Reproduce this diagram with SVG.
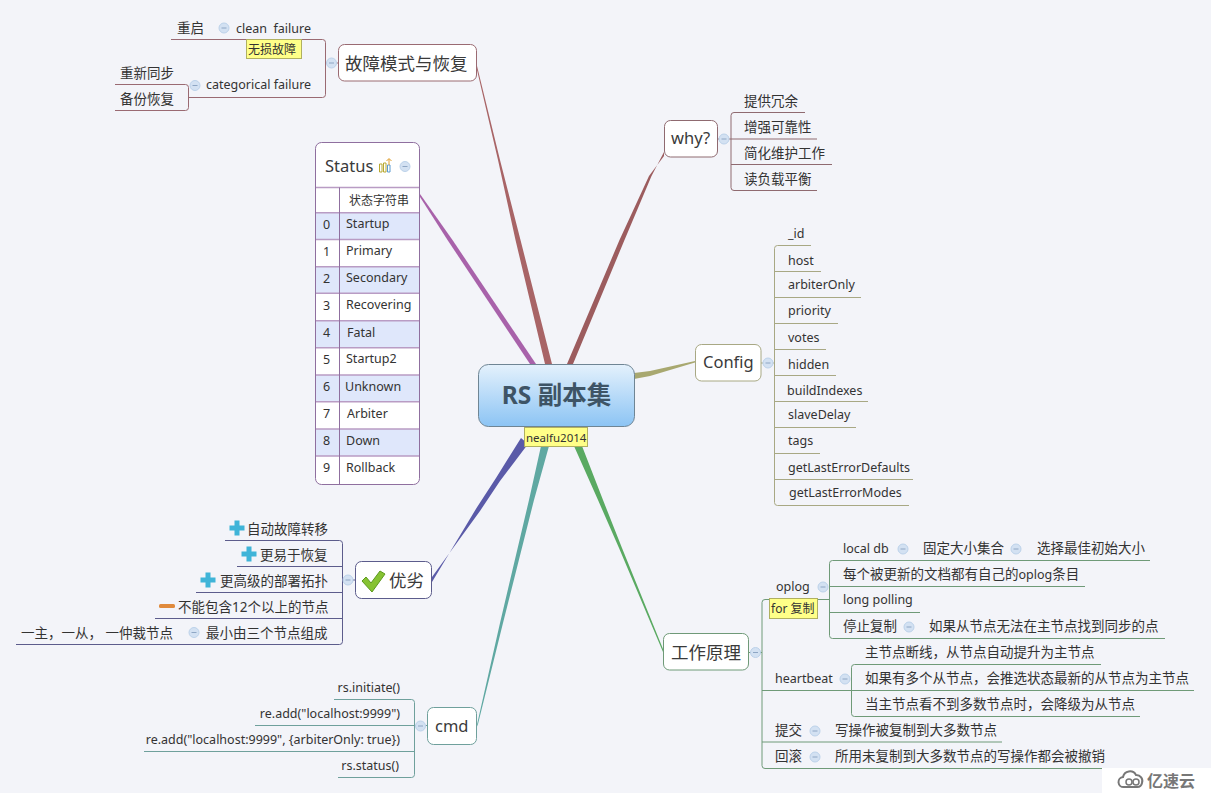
<svg xmlns="http://www.w3.org/2000/svg" width="1211" height="793" viewBox="0 0 1211 793">
<defs>
<linearGradient id="cg" x1="0" y1="0" x2="0" y2="1"><stop offset="0" stop-color="#e4f1fc"/><stop offset="1" stop-color="#8cc4f4"/></linearGradient>
<g id="mn"><circle r="5" fill="#d3e1f2" stroke="#bcd2ea"/><path d="M-2.500 0H2.500" stroke="#8ea6c4" stroke-width="1"/></g>
<g id="plus"><path d="M-7.500 0H7.500M0-7.500V7.500" stroke="#3fb4d8" stroke-width="5"/></g>
</defs>
<style>
text{font-family:"Noto Sans","Noto Sans CJK SC",sans-serif;fill:#333;font-size:12.500px;white-space:pre}
.z{font-size:13.500px}
.m{font-size:17.500px;fill:#3a3a3a}
.l{font-size:16.500px;fill:#3a3a3a}
.e{text-anchor:end}
.lab{fill:#ffff88;stroke:#b0b060}
.labt{font-size:12px}
.box{fill:#fff;stroke-width:1}
.c{fill:none;stroke-width:1}
.r{stroke:#9a6a72}.w{stroke:#8f6a70}.s{stroke:#8f6f9f}.g{stroke:#a8a884}.f{stroke:#6f9a78}.t{stroke:#6fa09c}.p{stroke:#5c5c8c}
</style>
<rect width="1211" height="793" fill="#f3f4f9"/>

<g id="connectors">
<polygon points="477,66 500,160 520.500,240 552,364 545,364 515.500,240 498,160 477,70" fill="#a86466"/>
<polygon points="420,194 452.500,240 536,364 530,364 447.500,240 420,197" fill="#a862aa"/>
<polygon points="664,152 651.500,176 624.500,240 573,364 567,364 619.500,240 649,176 664,156" fill="#9c5c5e"/>
<polygon points="695,361 650,371 634,373 634,379 650,376 695,362.500" fill="#a8a870"/>
<polygon points="663,649 622,548 603,500 582,446 574,446 598,500 619,548 663,652" fill="#5aaa62"/>
<polygon points="478,724 503,623 534,500 549,446 541,446 529,500 500,623 476,729" fill="#5fa8a2"/>
<polygon points="432,577 480,511 500,481 528,444 521,438 496,478 476.500,508 432,582" fill="#5a5aa8"/>

<path class="c r" d="M171 39.500H322.500a3 3 0 0 1 3 3V94.500a3 3 0 0 1-3 3H188.500M325.500 63H338"/>
<path class="c r" d="M115 84.500H185.500a3 3 0 0 1 3 3V107.500a3 3 0 0 1-3 3H115"/>
<path class="c w" d="M805 112.500H734a3 3 0 0 0-3 3V187.500a3 3 0 0 0 3 3H817M717 139H817M731 164.500H832"/>
<path class="c g" d="M811 245.500H777.500a3 3 0 0 0-3 3V502.500a3 3 0 0 0 3 3H909M774.500 271.500H821M774.500 297.500H861M774.500 323.500H838M774.500 349.500H826M774.500 375.500H836M774.500 401.500H868M774.500 427.500H856M774.500 453.500H820M774.500 479.500H913M761 363H774.500"/>
<path class="c f" d="M748 652.500H762M765 599.500H829.500M762 742H1002M765 768.500a3 3 0 0 1-3-3V602.500a3 3 0 0 1 3-3M765 768.500H1105M762 690.500H1194M1150 560.500H832.500a3 3 0 0 0-3 3V635.500a3 3 0 0 0 3 3H1165M829.500 586.500H1085M829.500 612.500H920M1101 664.500H854.500a3 3 0 0 0-3 3V713.500a3 3 0 0 0 3 3H1140"/>
<path class="c p" d="M225 540.500H339.500a3 3 0 0 1 3 3V641.500a3 3 0 0 1-3 3H16M237 566.500H342.500M196 592.500H342.500M155 618.500H342.500M342.500 580H355"/>
<path class="c t" d="M334 699.500H411.500a3 3 0 0 1 3 3V774.500a3 3 0 0 1-3 3H338M255 725.500H427M144 751.500H414.500"/>
</g>

<g id="root">
<rect x="478.500" y="364.500" width="156" height="62" rx="10" fill="url(#cg)" stroke="#6f8594"/>
<text x="556.500" y="404" text-anchor="middle" font-weight="700" style="font-size:24.500px;fill:#3e5466">RS 副本集</text>
</g>
<g id="root-label"><rect class="lab" x="524.500" y="427.500" width="63" height="19"/><text x="526" y="442" style="font-size:11.500px">nealfu2014</text></g>

<g id="n-fault">
<rect class="box r" x="338.500" y="44.500" width="138" height="36.500" rx="6"/>
<text class="m" x="345" y="70">故障模式与恢复</text>
<use href="#mn" x="331.500" y="63"/>
</g>
<g id="n-clean"><text x="236" y="33">clean  failure</text><use href="#mn" x="224" y="28"/></g>
<g id="n-clean-label"><rect class="lab" x="246.500" y="39.500" width="55" height="19"/><text class="labt" x="248" y="54">无损故障</text></g>
<g id="n-restart"><text class="z" x="177" y="33">重启</text></g>
<g id="n-categorical"><text x="206" y="89">categorical failure</text><use href="#mn" x="195" y="85.500"/></g>
<g id="n-resync"><text class="z" x="120" y="78">重新同步</text></g>
<g id="n-backup"><text class="z" x="120" y="104">备份恢复</text></g>

<g id="n-status">
<rect x="315.500" y="142.500" width="104" height="342" rx="6" fill="#fff" stroke="#8f6f9f"/>
<path d="M316 212.700H419V239.500H316ZM316 266.700H419V293.300H316ZM316 320.700H419V347.700H316ZM316 375H419V401.700H316ZM316 429H419V456H316Z" fill="#dfe7fb"/>
<path d="M316 187.500H419M316 212.700H419M316 239.500H419M316 266.700H419M316 293.300H419M316 320.700H419M316 347.700H419M316 375H419M316 401.700H419M316 429H419M316 456H419" stroke="#b99cc4" stroke-width="1.500" fill="none"/>
<path d="M339.500 187.500V484" stroke="#8f6f9f" fill="none"/>
<text class="l" x="325" y="172">Status</text>
<path d="M379.500 164h2.500v8h-2.500zM383.500 163h2.500v9h-2.500z" fill="none" stroke="#b8a830"/>
<path d="M387.500 165h2.500v7h-2.500z" fill="none" stroke="#5a9ad0"/>
<path d="M389 165v-6M386.500 161l2.500-2.500 2.500 2.500" fill="none" stroke="#e0a030"/>
<use href="#mn" x="405" y="166.500"/>
<text class="labt" x="349" y="205">状态字符串</text>
<text x="323" y="229">0</text><text x="346" y="228">Startup</text>
<text x="323" y="256">1</text><text x="346" y="255">Primary</text>
<text x="323" y="283">2</text><text x="346" y="282">Secondary</text>
<text x="323" y="310">3</text><text x="346" y="309">Recovering</text>
<text x="323" y="337">4</text><text x="347" y="337">Fatal</text>
<text x="323" y="364">5</text><text x="346" y="363">Startup2</text>
<text x="323" y="391">6</text><text x="345" y="391">Unknown</text>
<text x="323" y="418">7</text><text x="347" y="418">Arbiter</text>
<text x="323" y="445">8</text><text x="346" y="445">Down</text>
<text x="323" y="472">9</text><text x="346" y="472">Rollback</text>
</g>

<g id="n-why">
<rect class="box w" x="664.500" y="120.500" width="53" height="36.500" rx="6"/>
<text class="l" x="671" y="144">why?</text>
<use href="#mn" x="724" y="139"/>
</g>
<g id="w1"><text class="z" x="744" y="106">提供冗余</text></g>
<g id="w2"><text class="z" x="744" y="132">增强可靠性</text></g>
<g id="w3"><text class="z" x="744" y="158">简化维护工作</text></g>
<g id="w4"><text class="z" x="744" y="184">读负载平衡</text></g>

<g id="n-config">
<rect class="box g" x="695.500" y="344.500" width="65.500" height="36.500" rx="6"/>
<text class="l" x="703" y="368">Config</text>
<use href="#mn" x="768" y="363"/>
</g>
<g id="c1"><text x="788" y="238">_id</text></g>
<g id="c2"><text x="788" y="265">host</text></g>
<g id="c3"><text x="788" y="289">arbiterOnly</text></g>
<g id="c4"><text x="788" y="315">priority</text></g>
<g id="c5"><text x="788" y="342">votes</text></g>
<g id="c6"><text x="788" y="369">hidden</text></g>
<g id="c7"><text x="787" y="395">buildIndexes</text></g>
<g id="c8"><text x="788" y="419">slaveDelay</text></g>
<g id="c9"><text x="788" y="445">tags</text></g>
<g id="c10"><text x="788" y="472">getLastErrorDefaults</text></g>
<g id="c11"><text x="789" y="497">getLastErrorModes</text></g>

<g id="n-work">
<rect class="box f" x="663.500" y="633.500" width="85" height="36.500" rx="6"/>
<text class="m" x="671" y="659">工作原理</text>
<use href="#mn" x="755.500" y="652.500"/>
</g>
<g id="n-oplog"><text x="776" y="591">oplog</text><use href="#mn" x="823" y="587"/></g>
<g id="n-oplog-label"><rect class="lab" x="769.500" y="598.500" width="48" height="20"/><text class="labt" x="771" y="613">for 复制</text></g>
<g id="o1"><text x="843" y="553">local db</text><use href="#mn" x="903" y="549"/></g>
<g id="o1a"><text class="z" x="923" y="553">固定大小集合</text><use href="#mn" x="1016" y="549"/></g>
<g id="o1b"><text class="z" x="1037" y="553">选择最佳初始大小</text></g>
<g id="o2"><text class="z" x="843" y="579">每个被更新的文档都有自己的<tspan style="font-size:12.500px">oplog</tspan>条目</text></g>
<g id="o3"><text x="843" y="604">long polling</text></g>
<g id="o4"><text class="z" x="843" y="631">停止复制</text><use href="#mn" x="909" y="627"/></g>
<g id="o4a"><text class="z" x="929" y="631">如果从节点无法在主节点找到同步的点</text></g>
<g id="n-heartbeat"><text x="775" y="683">heartbeat</text><use href="#mn" x="845" y="679"/></g>
<g id="h1"><text class="z" x="865" y="657">主节点断线，从节点自动提升为主节点</text></g>
<g id="h2"><text class="z" x="865" y="683">如果有多个从节点，会推选状态最新的从节点为主节点</text></g>
<g id="h3"><text class="z" x="865" y="709">当主节点看不到多数节点时，会降级为从节点</text></g>
<g id="n-commit"><text class="z" x="775" y="735">提交</text><use href="#mn" x="815" y="731"/></g>
<g id="n-commit-a"><text class="z" x="835" y="735">写操作被复制到大多数节点</text></g>
<g id="n-rollback"><text class="z" x="775" y="761">回滚</text><use href="#mn" x="815" y="757"/></g>
<g id="n-rollback-a"><text class="z" x="835" y="761">所用未复制到大多数节点的写操作都会被撤销</text></g>

<g id="n-pros">
<rect class="box p" x="355.500" y="561.500" width="76" height="37" rx="6"/>
<path d="M362 581l4-4 5 6 9-12 5 3-13 18z" fill="#86c232" stroke="#5c9a1e" stroke-width="1"/>
<text class="m" x="389" y="587">优劣</text>
<use href="#mn" x="348" y="580"/>
</g>
<g id="p1"><use href="#plus" x="237" y="528"/><text class="z" x="247" y="534">自动故障转移</text></g>
<g id="p2"><use href="#plus" x="249" y="554"/><text class="z" x="260" y="560">更易于恢复</text></g>
<g id="p3"><use href="#plus" x="208" y="580"/><text class="z" x="220" y="586">更高级的部署拓扑</text></g>
<g id="p4"><rect x="159" y="604" width="16" height="4" rx="1.500" fill="#e08a3c"/><text class="z" x="178" y="612">不能包含12个以上的节点</text></g>
<g id="p5"><text class="z" x="206" y="638">最小由三个节点组成</text><use href="#mn" x="194" y="632.500"/></g>
<g id="p5a"><text class="z" x="21" y="638">一主，一从， 一仲裁节点</text></g>

<g id="n-cmd">
<rect class="box t" x="427.500" y="707.500" width="49" height="37" rx="6"/>
<text class="l" x="435" y="732">cmd</text>
<use href="#mn" x="420.500" y="726"/>
</g>
<g id="m1"><text class="e" x="400" y="692">rs.initiate()</text></g>
<g id="m2"><text class="e" x="400" y="718">re.add("localhost:9999")</text></g>
<g id="m3"><text class="e" x="400" y="744">re.add("localhost:9999", {arbiterOnly: true})</text></g>
<g id="m4"><text class="e" x="399" y="770">rs.status()</text></g>

<rect x="1102" y="768" width="109" height="25" fill="#fff"/>
<path d="M1124 787a5 5 0 0 1-1-10a7 7 0 0 1 13-2a6 6 0 0 1 6 8a5 5 0 0 1-5 4z" fill="none" stroke="#777" stroke-width="2"/>
<circle cx="1129" cy="782" r="3" fill="none" stroke="#777" stroke-width="1.500"/><circle cx="1136" cy="782" r="3" fill="none" stroke="#777" stroke-width="1.500"/>
<text x="1147" y="787" font-weight="700" style="font-size:16px;fill:#777">亿速云</text>
</svg>
